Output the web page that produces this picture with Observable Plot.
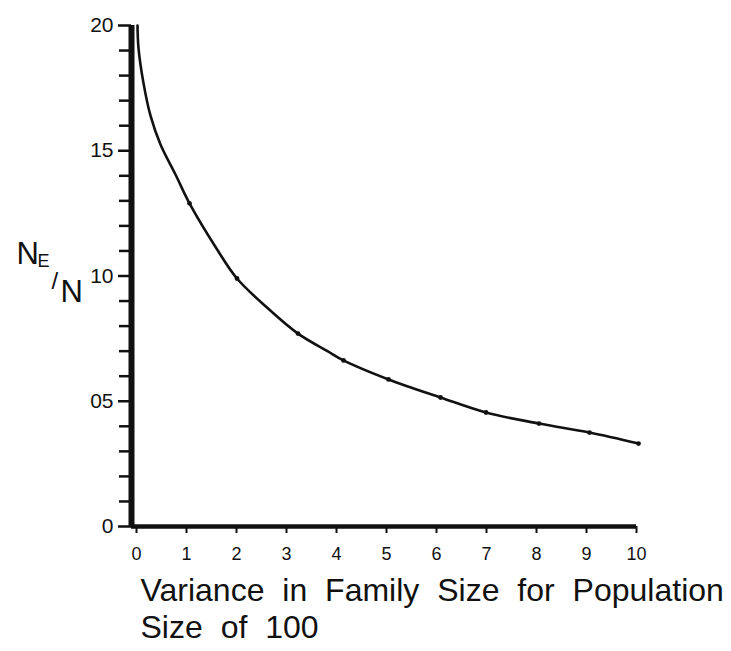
<!DOCTYPE html>
<html><head><meta charset="utf-8">
<script src="https://cdn.jsdelivr.net/npm/d3@7"></script>
<script src="https://cdn.jsdelivr.net/npm/@observablehq/plot@0.6"></script>
<style>body{margin:0;background:#fff}</style>
</head><body><div id="chart"></div>
<script>
// Curve
const curveX = [0.02, 0.04, 0.14, 0.28, 0.48, 0.78, 1.06, 1.6, 2.01, 2.61, 3.23, 3.82, 4.14, 5.04, 6.08, 6.99, 8.05, 9.06, 10.04];
const curveY = [2.0, 1.91, 1.77, 1.64, 1.525, 1.405, 1.29, 1.11, 0.99, 0.874, 0.77, 0.70, 0.663, 0.587, 0.515, 0.455, 0.411, 0.375, 0.331];
// Plotted points (small dots on the curve)
const dotX = [1.06, 2.01, 3.23, 4.14, 5.04, 6.08, 6.99, 8.05, 9.06, 10.04];
const dotY = [1.29, 0.99, 0.77, 0.663, 0.587, 0.515, 0.455, 0.411, 0.375, 0.331];
// Ticks
const xTicks = [0, 1, 2, 3, 4, 5, 6, 7, 8, 9, 10];
const xTickLabels = ["0", "1", "2", "3", "4", "5", "6", "7", "8", "9", "10"];
const yMajorTicks = [0, 0.5, 1, 1.5, 2];
const yTickLabels = ["0", "05", "10", "15", "20"];
const yMinorTicks = [0.1, 0.2, 0.3, 0.4, 0.6, 0.7, 0.8, 0.9, 1.1, 1.2, 1.3, 1.4, 1.6, 1.7, 1.8, 1.9];
// Titles
const xTitle = ["Variance in Family Size for Population", "Size of 100"];
const yTitleParts = ["N", "E", "/", "N"];

const curveData = curveX.map((x, i) => ({x, y: curveY[i]}));
const dotData = dotX.map((x, i) => ({x, y: dotY[i]}));
const ink = "#111";
const font = "'Liberation Sans', Arial, Helvetica, sans-serif";

const plot = Plot.plot({
  width: 731, height: 651,
  marginLeft: 136, marginRight: 95, marginTop: 25, marginBottom: 125,
  style: {fontFamily: font, color: ink, background: "#fff"},
  x: {domain: [0, 10], label: null},
  y: {domain: [0, 2], label: null},
  marks: [
    Plot.axisY(yMinorTicks, {tickSize: 12, dx: -5, tickFormat: () => "", label: null, strokeWidth: 2.5}),
    Plot.axisY(yMajorTicks, {tickSize: 13, dx: -5, tickPadding: 5, fontSize: 21, label: null, strokeWidth: 2.5,
      tickFormat: d => yTickLabels[yMajorTicks.indexOf(d)]}),
    Plot.axisX(xTicks, {tickSize: 7, tickPadding: 14, fontSize: 18, label: null, strokeWidth: 2,
      tickFormat: d => xTickLabels[xTicks.indexOf(d)]}),
    Plot.ruleX([0], {stroke: ink, strokeWidth: 6, dx: -5}),
    Plot.ruleY([0], {stroke: ink, strokeWidth: 4.5, x1: -0.1, x2: 10}),
    Plot.line(curveData, {x: "x", y: "y", curve: "catmull-rom", stroke: ink, strokeWidth: 2.6}),
    Plot.dot(dotData, {x: "x", y: "y", r: 2.4, fill: ink}),
    Plot.text([xTitle[0]], {text: d => d, frameAnchor: "top-left", dx: 4, dy: 575, lineAnchor: "bottom", textAnchor: "start", fontSize: 32, fill: ink}),
    Plot.text([xTitle[1]], {text: d => d, frameAnchor: "top-left", dx: 4, dy: 612, lineAnchor: "bottom", textAnchor: "start", fontSize: 32, fill: ink}),
    Plot.text([yTitleParts[0]], {text: d => d, frameAnchor: "top-left", dx: -120, dy: 238, lineAnchor: "bottom", textAnchor: "start", fontSize: 31, fill: ink}),
    Plot.text([yTitleParts[1]], {text: d => d, frameAnchor: "top-left", dx: -99, dy: 241, lineAnchor: "bottom", textAnchor: "start", fontSize: 18, fill: ink}),
    Plot.text([yTitleParts[2]], {text: d => d, frameAnchor: "top-left", dx: -85, dy: 263, lineAnchor: "bottom", textAnchor: "start", fontSize: 24, fill: ink}),
    Plot.text([yTitleParts[3]], {text: d => d, frameAnchor: "top-left", dx: -76, dy: 276, lineAnchor: "bottom", textAnchor: "start", fontSize: 31, fill: ink})
  ]
});
document.getElementById("chart").appendChild(plot);
d3.select(plot).selectAll("text").filter(function() { return xTitle.includes(this.textContent); })
  .style("word-spacing", "9px");
d3.select(plot).selectAll("g[aria-label='y-axis tick label']").attr("font-size", 21);
</script>
</body></html>
